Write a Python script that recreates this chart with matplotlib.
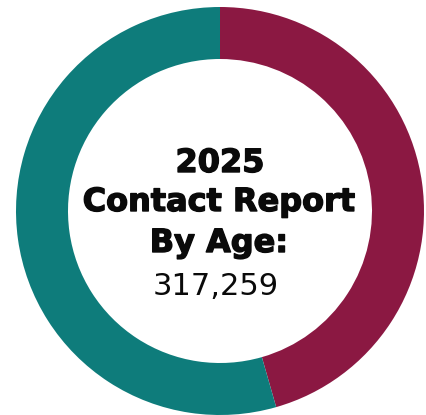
import matplotlib
matplotlib.use("Agg")
import matplotlib.pyplot as plt
import matplotlib.patheffects as pe

# contacts per age group (two groups) and their colours
groups = ["Group A", "Group B"]
contacts = [144540, 172719]
colors = ["#8B1842", "#0E7C7B"]

W, H = 427, 415
fig = plt.figure(figsize=(W / 100, H / 100), dpi=100)
ax = fig.add_axes([0, 0, 1, 1])

cx, cy, r = 220, H - 211, 204
ax.pie(contacts, colors=colors, startangle=90, counterclock=False,
       center=(cx, cy), radius=r, frame=True,
       wedgeprops=dict(width=52, linewidth=0))
ax.set_xlim(0, W)
ax.set_ylim(0, H)
ax.set_aspect("equal")
ax.axis("off")

total = sum(contacts)
heavy = [pe.withStroke(linewidth=1.0, foreground="#0a0a0a")]
title_font = dict(family="DejaVu Sans", fontweight="bold", fontsize=23,
                  ha="center", va="baseline", color="#0a0a0a",
                  path_effects=heavy)
ax.text(cx, H - 172, "2025", **title_font)
ax.text(cx - 1, H - 211, "Contact Report", **title_font)
ax.text(cx - 1, H - 252, "By Age:", **title_font)
ax.text(cx - 4, H - 295, f"{total:,}", family="DejaVu Sans", fontsize=22,
        ha="center", va="baseline", color="#0a0a0a")

fig.savefig("out.png", dpi=100, facecolor="white")
